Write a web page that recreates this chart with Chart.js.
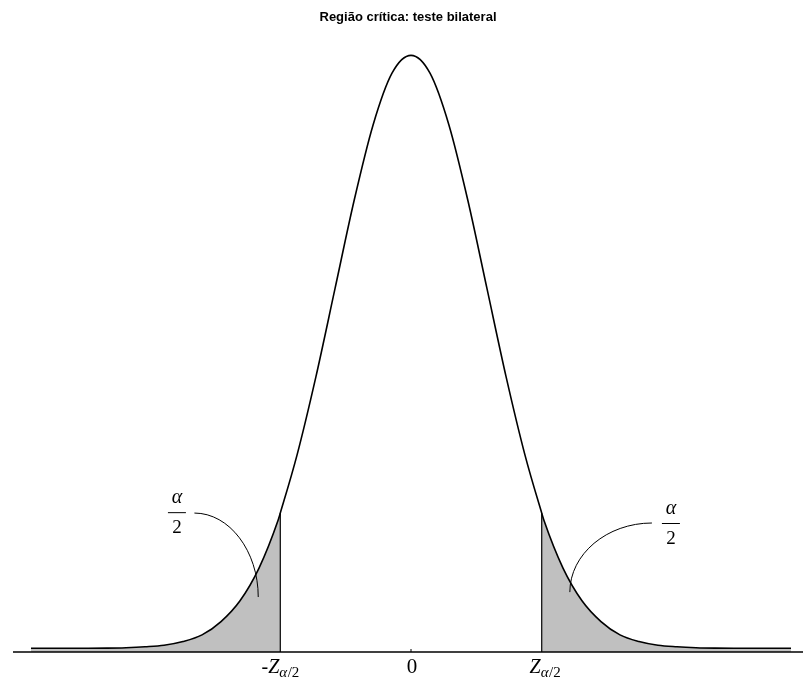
<!DOCTYPE html>
<html>
<head>
<meta charset="utf-8">
<title>Região crítica: teste bilateral</title>
<script src="https://cdn.jsdelivr.net/npm/chart.js@4/dist/chart.umd.min.js"></script>
<style>
  body { margin: 0; background: #fff; }
</style>
</head>
<body>
<canvas id="normalChart" width="808" height="680"></canvas>
<script>
// values (standard normal curve, x in z units)
const xs = [-5, -4.75, -4.5, -4.25, -4, -3.75, -3.5, -3.25, -3, -2.75, -2.5, -2.25, -2, -1.75, -1.72,
    -1.5, -1.25, -1, -0.75, -0.5, -0.25, 0, 0.25, 0.5, 0.75, 1, 1.25, 1.5, 1.72, 1.75,
    2, 2.25, 2.5, 2.75, 3, 3.25, 3.5, 3.75, 4, 4.25, 4.5, 4.75, 5];
const density = [0, 0, 0, 0, 0.0001, 0.0004, 0.001, 0.002, 0.0045, 0.009, 0.018, 0.032, 0.054, 0.086, 0.091,
    0.130, 0.183, 0.242, 0.301, 0.352, 0.387, 0.399, 0.387, 0.352, 0.301, 0.242, 0.183, 0.130, 0.091, 0.086,
    0.054, 0.032, 0.018, 0.009, 0.0045, 0.002, 0.001, 0.0004, 0.0001, 0, 0, 0, 0];

const zCrit = 1.72;
const critHeight = 0.091;
const tickValues = [-zCrit, 0, zCrit];
const tickLabels = [['-Z', 'α/2'], ['0', ''], ['Z', 'α/2']];

const yMin = -0.0025;
const yMax = 0.41;

const curve = xs.map((x, i) => ({ x: x, y: density[i] }));
const leftTail = curve.filter((p) => p.x <= -zCrit);
const rightTail = curve.filter((p) => p.x >= zCrit);

// alpha/2 notes: fraction centre and leader curve (start, control 1, control 2, end), in data units
const notes = [
    { at: [-3.08, 0.0916], path: [[-2.85, 0.091], [-2.39, 0.091], [-2.01, 0.0654], [-2.01, 0.0345]] },
    { at: [3.42, 0.0843], path: [[3.17, 0.0843], [2.58, 0.0843], [2.09, 0.0634], [2.09, 0.0378]] },
];

const serif = '"Liberation Serif", "Times New Roman", serif';

const axisDecor = {
    id: 'axisDecor',
    afterDatasetsDraw(chart) {
        const ctx = chart.ctx;
        const xScale = chart.scales.x;
        const yScale = chart.scales.y;
        const area = chart.chartArea;
        const base = yScale.getPixelForValue(yMin);

        ctx.save();
        ctx.strokeStyle = '#000';
        ctx.lineWidth = 1.6;
        ctx.beginPath();
        ctx.moveTo(area.left, base);
        ctx.lineTo(area.right, base);
        ctx.stroke();

        // little tick at zero
        const x0 = xScale.getPixelForValue(0);
        ctx.lineWidth = 1;
        ctx.beginPath();
        ctx.moveTo(x0, base - 3);
        ctx.lineTo(x0, base);
        ctx.stroke();

        // tick labels: the Z ends at the tick, its subscript hangs to the right
        ctx.fillStyle = '#000';
        ctx.textBaseline = 'alphabetic';
        tickValues.forEach((v, i) => {
            const [main, sub] = tickLabels[i];
            const px = xScale.getPixelForValue(v);
            const y = base + 21;
            if (!sub) {
                ctx.textAlign = 'center';
                ctx.font = '21px ' + serif;
                ctx.fillText(main, px + 1, y);
                return;
            }
            ctx.textAlign = 'right';
            ctx.font = 'italic 20px ' + serif;
            const zw = ctx.measureText('Z').width;
            ctx.fillText('Z', px - 1, y);
            if (main.startsWith('-')) {
                ctx.font = '20px ' + serif;
                ctx.fillText('-', px - 1 - zw, y);
            }
            ctx.textAlign = 'left';
            ctx.font = 'italic 15px ' + serif;
            ctx.fillText('α', px - 1, y + 4);
            const aw = ctx.measureText('α').width;
            ctx.font = '15px ' + serif;
            ctx.fillText('/2', px - 1 + aw + 0.5, y + 4);
        });

        // alpha/2 fractions with leader curves
        notes.forEach((n) => {
            const fx = xScale.getPixelForValue(n.at[0]);
            const fy = yScale.getPixelForValue(n.at[1]);
            ctx.textAlign = 'center';
            ctx.font = 'italic 20px ' + serif;
            ctx.fillText('α', fx, fy - 9);
            ctx.font = '19px ' + serif;
            ctx.fillText('2', fx, fy + 21);
            ctx.lineWidth = 1;
            ctx.beginPath();
            ctx.moveTo(fx - 9, fy + 0.5);
            ctx.lineTo(fx + 9, fy + 0.5);
            ctx.stroke();

            const pts = n.path.map((p) => [xScale.getPixelForValue(p[0]), yScale.getPixelForValue(p[1])]);
            ctx.beginPath();
            ctx.moveTo(pts[0][0], pts[0][1]);
            ctx.bezierCurveTo(pts[1][0], pts[1][1], pts[2][0], pts[2][1], pts[3][0], pts[3][1]);
            ctx.stroke();
        });
        ctx.restore();
    }
};

const ctx = document.getElementById('normalChart').getContext('2d');

const chart = new Chart(ctx, {
    type: 'line',
    data: {
        datasets: [
            {
                label: 'curve',
                data: curve,
                borderColor: '#000',
                borderWidth: 1.6,
                cubicInterpolationMode: 'monotone',
                fill: false,
                order: 0
            },
            {
                label: 'left line',
                data: [{ x: -zCrit, y: yMin }, { x: -zCrit, y: critHeight }],
                borderColor: '#000',
                borderWidth: 1.2,
                fill: false,
                order: 1
            },
            {
                label: 'right line',
                data: [{ x: zCrit, y: yMin }, { x: zCrit, y: critHeight }],
                borderColor: '#000',
                borderWidth: 1.2,
                fill: false,
                order: 1
            },
            {
                label: 'left tail',
                data: leftTail,
                borderWidth: 0,
                borderColor: 'rgba(0,0,0,0)',
                backgroundColor: '#c0c0c0',
                cubicInterpolationMode: 'monotone',
                fill: 'start',
                order: 2
            },
            {
                label: 'right tail',
                data: rightTail,
                borderWidth: 0,
                borderColor: 'rgba(0,0,0,0)',
                backgroundColor: '#c0c0c0',
                cubicInterpolationMode: 'monotone',
                fill: 'start',
                order: 2
            }
        ]
    },
    options: {
        responsive: false,
        animation: false,
        devicePixelRatio: 1,
        layout: { padding: { left: 13, right: 5, top: 0, bottom: 28 } },
        elements: { point: { radius: 0 } },
        scales: {
            x: { type: 'linear', min: -5.237, max: 5.158, display: false },
            y: { min: yMin, max: yMax, display: false }
        },
        plugins: {
            legend: { display: false },
            tooltip: { enabled: false },
            title: {
                display: true,
                text: 'Região crítica: teste bilateral',
                color: '#000',
                font: { family: '"Liberation Sans", Arial, sans-serif', size: 13, weight: 'bold' },
                padding: { top: 10, bottom: 13.4 }
            }
        }
    },
    plugins: [axisDecor]
});
</script>
</body>
</html>
